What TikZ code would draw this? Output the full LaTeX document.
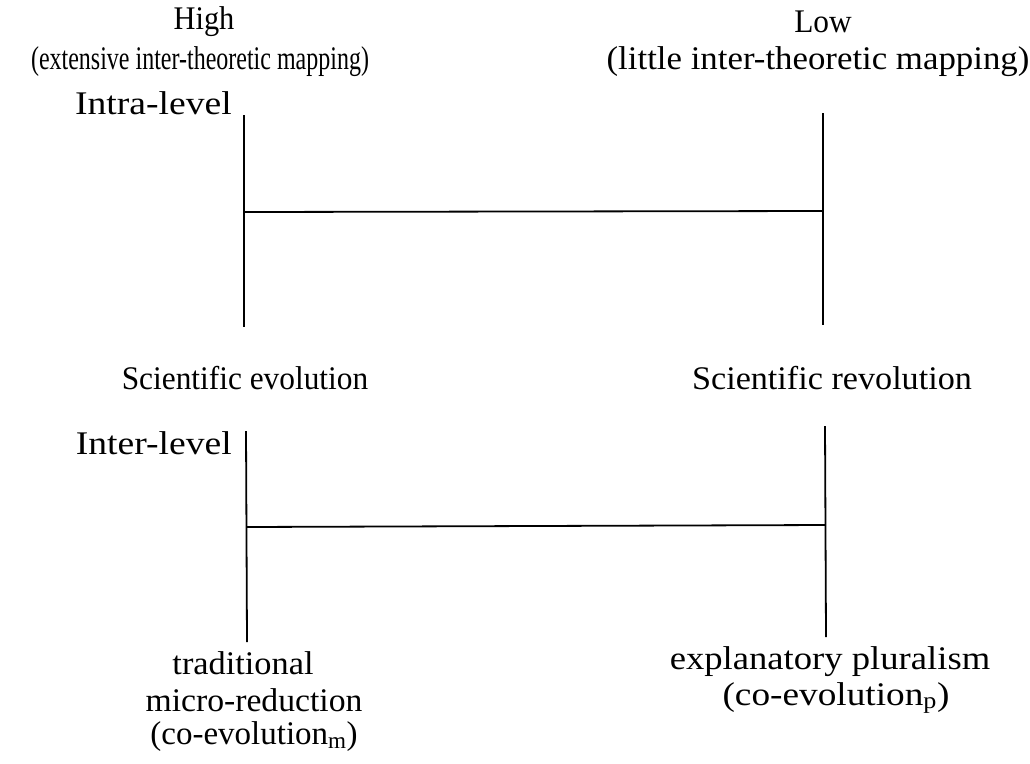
\documentclass[tikz,border=0pt]{standalone}
\usepackage{fontspec}
\setmainfont{Liberation Serif}
% horizontally stretched or squeezed text
\newcommand\wideby[2]{\scalebox{#1}[1]{#2}}
\begin{document}
\begin{tikzpicture}[x=1pt,y=-1pt,
  hdr/.style={inner sep=0pt,font=\fontsize{33}{40}\selectfont},
  lbl/.style={inner sep=0pt,font=\fontsize{33}{40}\selectfont},
  bar/.style={line width=1.8pt,line cap=butt}]
\useasboundingbox (0,0) rectangle (1030,763);

% column headings
\node[hdr] (high) at (204,22) {\wideby{0.92}{High}};
\node[hdr] (highsub) at (200,62) {\wideby{0.727}{(extensive inter-theoretic mapping)}};
\node[hdr] (low) at (823,22) {\wideby{0.95}{Low}};
\node[hdr] (lowsub) at (818,62) {\wideby{1.055}{(little inter-theoretic mapping)}};

% intra-level scale
\node[lbl,anchor=east] (intra) at (232,103) {\wideby{1.14}{Intra-level}};
\coordinate (a1) at (244,115);
\coordinate (a2) at (244,327);
\coordinate (b1) at (823,113);
\coordinate (b2) at (823,325);
\coordinate (am) at (244,212);
\coordinate (bm) at (823,211);
\draw[bar] (a1) -- (a2);
\draw[bar] (b1) -- (b2);
\draw[bar] (am) -- (bm);
\node[lbl] (sevo) at (245,378) {\wideby{0.95}{Scientific evolution}};
\node[lbl] (srev) at (832,378) {\wideby{1.035}{Scientific revolution}};

% inter-level scale
\node[lbl,anchor=east] (inter) at (232,443) {\wideby{1.14}{Inter-level}};
\coordinate (c1) at (246,431);
\coordinate (c2) at (247,642);
\coordinate (d1) at (825,426);
\coordinate (d2) at (826,637);
\coordinate (cm) at (246,527);
\coordinate (dm) at (825,525);
\draw[bar] (c1) -- (c2);
\draw[bar] (d1) -- (d2);
\draw[bar] (cm) -- (dm);

\node[lbl] (trad) at (243,663) {\wideby{1.04}{traditional}};
\node[lbl] (micro) at (254,700) {\wideby{1.02}{micro-reduction}};
\node[lbl] (coevm) at (254,737) {(co-evolution\textsubscript{m})};
\node[lbl] (expl) at (830,662) {\wideby{1.11}{explanatory pluralism}};
\node[lbl] (coevp) at (836,698) {\wideby{1.13}{(co-evolution\textsubscript{p})}};
\end{tikzpicture}
\end{document}
